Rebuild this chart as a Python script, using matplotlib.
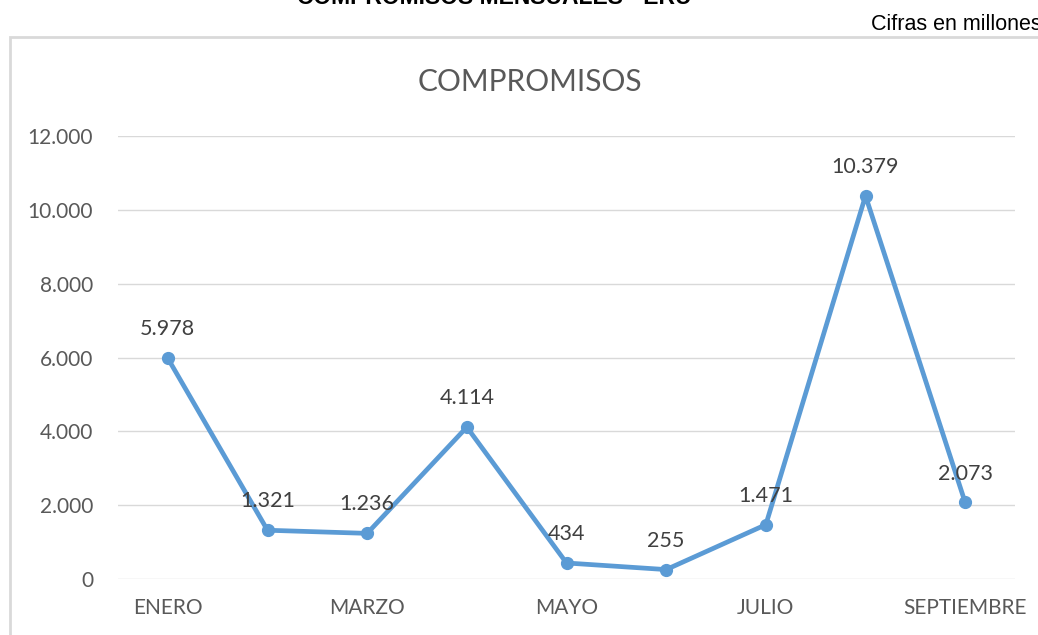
import matplotlib
matplotlib.use("Agg")
import matplotlib.pyplot as plt
from matplotlib.patches import Rectangle
from matplotlib.ticker import FuncFormatter

months = ["ENERO", "FEBRERO", "MARZO", "ABRIL", "MAYO", "JUNIO", "JULIO", "AGOSTO", "SEPTIEMBRE"]
values = [5978, 1321, 1236, 4114, 434, 255, 1471, 10379, 2073]
labels = ["5.978", "1.321", "1.236", "4.114", "434", "255", "1.471", "10.379", "2.073"]
yticks = [0, 2000, 4000, 6000, 8000, 10000, 12000]

W, H = 1038, 635
fig = plt.figure(figsize=(W / 100, H / 100), dpi=100)
fig.patch.set_facecolor("white")

# outer chart border (extends beyond figure on right and bottom)
border = Rectangle((10 / W, -0.05), 1.2, (H - 37) / H + 0.05, transform=fig.transFigure,
                   fill=False, edgecolor="#d9d9d9", linewidth=2, clip_on=False)
fig.patches.append(border)

fig.text(494 / W, (H - 4) / H, "COMPROMISOS MENSUALES - ERU", ha="center", va="baseline",
         fontsize=16.5, fontweight="bold", family="Liberation Sans", color="black")
fig.text(871 / W, (H - 30) / H, "Cifras en millones", ha="left", va="baseline",
         fontsize=15.5, family="Liberation Sans", color="black")

ax = fig.add_axes([118 / W, (H - 579) / H, (1015 - 118) / W, (579 - 136) / H])
ax.set_facecolor("none")
x = list(range(len(months)))
ax.plot(x, values, color="#5b9bd5", linewidth=3.4, marker="o", markersize=8.5, zorder=3,
        solid_capstyle="round")
ax.set_xlim(-0.5, len(months) - 0.5)
ax.set_ylim(0, 12000)
ax.set_yticks(yticks)
ax.yaxis.set_major_formatter(FuncFormatter(lambda v, p: f"{int(v):,}".replace(",", ".")))
ax.set_xticks(x[::2])
ax.set_xticklabels(months[::2])
for s in ax.spines.values():
    s.set_visible(False)
ax.grid(axis="y", color="#d9d9d9", linewidth=1)
ax.set_axisbelow(True)
ax.tick_params(axis="both", length=0, labelsize=15, labelcolor="#595959")
ax.tick_params(axis="x", pad=14)
ax.tick_params(axis="y", pad=18)
for lab in ax.get_xticklabels() + ax.get_yticklabels():
    lab.set_family("Lato")

for xi, v, t in zip(x, values, labels):
    ax.annotate(t, (xi, v), xytext=(0, 16.5), textcoords="offset points", ha="center",
                va="baseline", fontsize=15.5, color="#404040", family="Lato")

fig.text(530 / W, (H - 82) / H, "COMPROMISOS", ha="center", va="center",
         fontsize=21.5, color="#595959", family="Lato")

fig.savefig("out.png", dpi=100)
